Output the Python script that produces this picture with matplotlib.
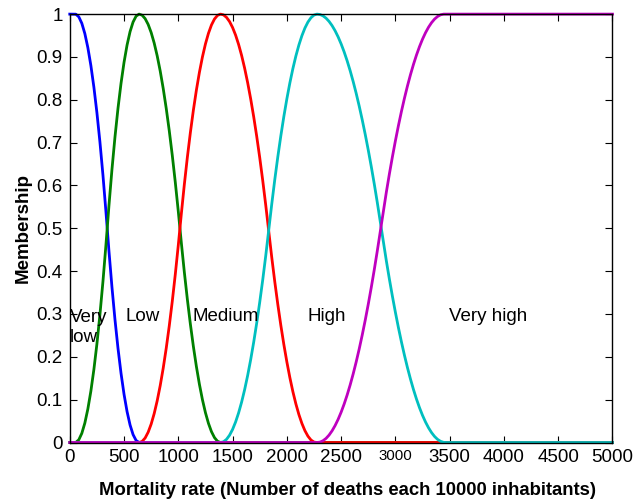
import numpy as np
import matplotlib
matplotlib.use("Agg")
import matplotlib.pyplot as plt
from matplotlib.transforms import ScaledTranslation

plt.rcParams['font.family'] = ['Liberation Sans', 'DejaVu Sans']

# Membership function definitions
labels = ["Very\nlow", "Low", "Medium", "High", "Very high"]
mf_types = ["zmf", "pimf", "pimf", "pimf", "smf"]
mf_params = [
    [50, 640],
    [50, 640, 640, 1390],
    [640, 1390, 1390, 2270],
    [1390, 2280, 2280, 3460],
    [2280, 3450],
]
colors = ["#0000ff", "#008000", "#ff0000", "#00bfbf", "#bf00bf"]
label_x = [0, 516, 1135, 2187, 3497]
label_y = [0.3, 0.3, 0.3, 0.3, 0.3]

x_range = [0, 5000]
x_ticks = [0, 500, 1000, 1500, 2000, 2500, 3000, 3500, 4000, 4500, 5000]
y_ticks = [0, 0.1, 0.2, 0.3, 0.4, 0.5, 0.6, 0.7, 0.8, 0.9, 1]
y_tick_labels = ["0", "0.1", "0.2", "0.3", "0.4", "0.5", "0.6", "0.7", "0.8", "0.9", "1"]


def smf(x, a, b):
    y = np.zeros_like(x)
    m = (a + b) / 2
    i1 = (x > a) & (x <= m)
    i2 = (x > m) & (x <= b)
    y[i1] = 2 * ((x[i1] - a) / (b - a)) ** 2
    y[i2] = 1 - 2 * ((x[i2] - b) / (b - a)) ** 2
    y[x > b] = 1
    return y


def zmf(x, a, b):
    return 1 - smf(x, a, b)


def pimf(x, a, b, c, d):
    return np.minimum(smf(x, a, b), zmf(x, c, d))


funcs = {"smf": smf, "zmf": zmf, "pimf": pimf}

FS = 13.5
LINE_PT = 15.1

fig = plt.figure(figsize=(6.4, 5.04), dpi=100)
ax = fig.add_axes([0.109, 0.122, 0.848, 0.850])

xs = np.linspace(x_range[0], x_range[1], 181)
for t, p, c in zip(mf_types, mf_params, colors):
    ax.plot(xs, funcs[t](xs, *p), color=c, lw=2.0, clip_on=False)

# first line's baseline sits ~half a cap height below the anchor point
for lab, lx, ly in zip(labels, label_x, label_y):
    n_extra = lab.count("\n")
    tr = ax.transData + ScaledTranslation(0, (-5.0 - LINE_PT * n_extra) / 72,
                                          fig.dpi_scale_trans)
    ax.text(lx, ly, lab, fontsize=FS, ha='left', va='baseline',
            linespacing=1.25, transform=tr)

ax.set_xlim(*x_range)
ax.set_ylim(0, 1)
ax.set_xticks(x_ticks)
ax.set_yticks(y_ticks)
ax.set_yticklabels(y_tick_labels)
ax.tick_params(direction='in', top=True, right=True, length=5, width=0.8,
               labelsize=FS, pad=5)
for lbl in ax.get_xticklabels():
    if lbl.get_text() == "3000":
        lbl.set_fontsize(10.8)
for s in ax.spines.values():
    s.set_linewidth(1.0)

ax.set_xlabel("Mortality rate (Number of deaths each 10000 inhabitants)",
              fontsize=13.3, fontweight='bold', labelpad=11.5)
ax.xaxis.label.set_x(0.511)
ax.set_ylabel("Membership", fontsize=FS, fontweight='bold', labelpad=3.5)

fig.savefig("out.png", dpi=100)
